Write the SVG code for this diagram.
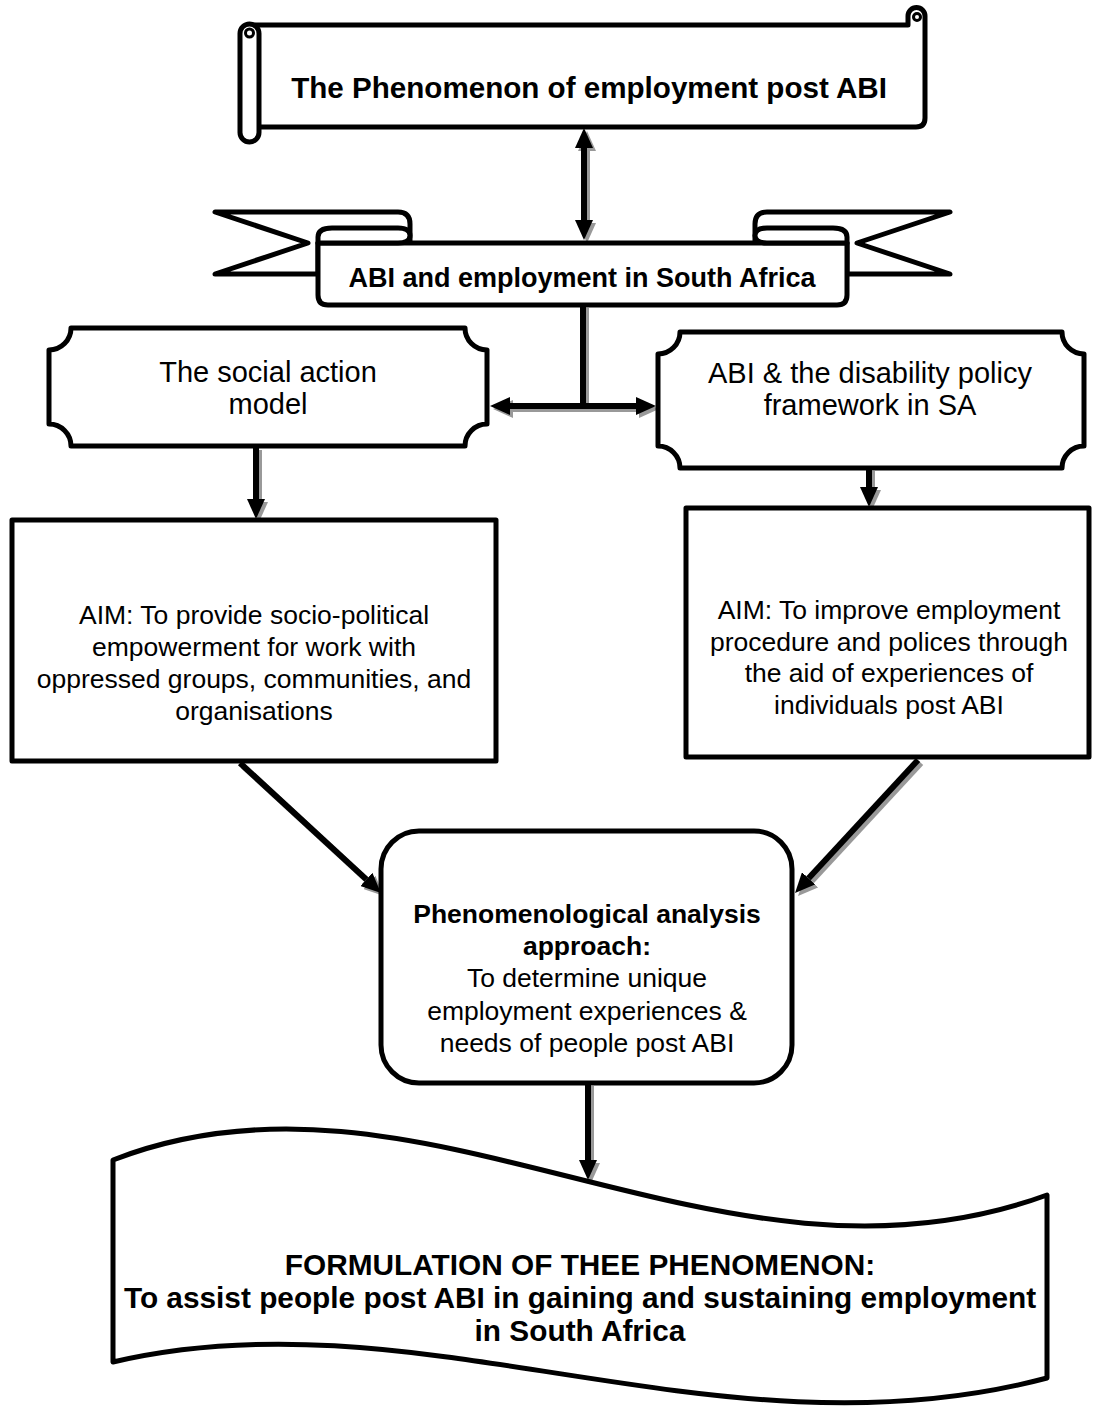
<svg xmlns="http://www.w3.org/2000/svg" width="1093" height="1408" viewBox="0 0 1093 1408">
<style>
.o{fill:#fff;stroke:#000;stroke-width:5;stroke-linejoin:round}
.n{fill:none;stroke:#000;stroke-width:5;stroke-linejoin:round;stroke-linecap:round}
.t{font-family:"Liberation Sans",Arial,sans-serif;fill:#000;text-anchor:middle}
.b{font-weight:bold}
.c{fill:none;stroke:#000;stroke-width:6}
.s{fill:none;stroke:#999;stroke-width:6}
</style>
<defs>
<marker id="ah" viewBox="0 0 20 18" refX="0" refY="9" markerWidth="20" markerHeight="18" markerUnits="userSpaceOnUse" orient="auto-start-reverse"><path d="M0,0 L20,9 L0,18 Z" fill="#000"/></marker>
<marker id="ahs" viewBox="0 0 20 18" refX="0" refY="9" markerWidth="20" markerHeight="18" markerUnits="userSpaceOnUse" orient="auto-start-reverse"><path d="M0,0 L20,9 L0,18 Z" fill="#999"/></marker>
</defs>
<rect width="1093" height="1408" fill="#fff"/>

<g id="connectors">
 <g transform="translate(3,3)">
  <line class="s" x1="584" y1="148" x2="584" y2="220" marker-start="url(#ahs)" marker-end="url(#ahs)"/>
  <line class="s" x1="583" y1="305" x2="583" y2="406"/>
  <line class="s" x1="510" y1="406" x2="636" y2="406" marker-start="url(#ahs)" marker-end="url(#ahs)"/>
  <line class="s" x1="256" y1="447" x2="256" y2="499" marker-end="url(#ahs)"/>
  <line class="s" x1="869" y1="468" x2="869" y2="487" marker-end="url(#ahs)"/>
  <line class="s" x1="240" y1="763" x2="366.3" y2="879.4" marker-end="url(#ahs)"/>
  <line class="s" x1="918" y1="760" x2="808.6" y2="878.3" marker-end="url(#ahs)"/>
  <line class="s" x1="588" y1="1083" x2="588" y2="1160" marker-end="url(#ahs)"/>
 </g>
 <line class="c" x1="584" y1="148" x2="584" y2="220" marker-start="url(#ah)" marker-end="url(#ah)"/>
 <line class="c" x1="583" y1="305" x2="583" y2="406"/>
 <line class="c" x1="510" y1="406" x2="636" y2="406" marker-start="url(#ah)" marker-end="url(#ah)"/>
 <line class="c" x1="256" y1="447" x2="256" y2="499" marker-end="url(#ah)"/>
 <line class="c" x1="869" y1="468" x2="869" y2="487" marker-end="url(#ah)"/>
 <line class="c" x1="240" y1="763" x2="366.3" y2="879.4" marker-end="url(#ah)"/>
 <line class="c" x1="918" y1="760" x2="808.6" y2="878.3" marker-end="url(#ah)"/>
 <line class="c" x1="588" y1="1083" x2="588" y2="1160" marker-end="url(#ah)"/>
</g>

<g id="title">
 <path d="M250,25 H924 V127 H250 Z" fill="#fff"/>
 <path class="n" d="M250,25 H908 V16 A8.5,8.5 0 0 1 925,16 V118 Q925,127 916,127 H258"/>
 <circle cx="917" cy="17" r="3.5" fill="none" stroke="#000" stroke-width="3"/>
 <rect class="o" x="240" y="24" width="19" height="118" rx="9.5"/>
 <circle cx="249.5" cy="33" r="4" fill="none" stroke="#000" stroke-width="3"/>
 <text class="t b" x="589" y="98" font-size="29.6">The Phenomenon of employment post ABI</text>
</g>

<g id="ribbon">
 <path class="o" d="M318,274 H215 L308,243 L215,212 H398 Q410,212 410,224 V243 H318 Z"/>
 <path class="o" d="M318,274 H215 L308,243 L215,212 H398 Q410,212 410,224 V243 H318 Z" transform="matrix(-1,0,0,1,1165,0)"/>
 <path class="o" d="M318,243 H847 V295 Q847,305 837,305 H328 Q318,305 318,295 Z"/>
 <path class="o" d="M318,243 V237 Q318,228 332,228 H398 Q410,228 410,235.5 Q410,243 398,243 Z"/>
 <path class="o" d="M318,243 V237 Q318,228 332,228 H398 Q410,228 410,235.5 Q410,243 398,243 Z" transform="matrix(-1,0,0,1,1165,0)"/>
 <text class="t b" x="582" y="287" font-size="27">ABI and employment in South Africa</text>
</g>

<g id="social">
 <path class="o" d="M71,328 H465 A22,22 0 0 0 487,350 V424 A22,22 0 0 0 465,446 H71 A22,22 0 0 0 49,424 V350 A22,22 0 0 0 71,328 Z"/>
 <text class="t" x="268" y="382" font-size="29">The social action</text>
 <text class="t" x="268" y="414" font-size="29">model</text>
</g>

<g id="policy">
 <path class="o" d="M680,332 H1062 A22,22 0 0 0 1084,354 V446 A22,22 0 0 0 1062,468 H680 A22,22 0 0 0 658,446 V354 A22,22 0 0 0 680,332 Z"/>
 <text class="t" x="870" y="383" font-size="29">ABI &amp; the disability policy</text>
 <text class="t" x="870" y="415" font-size="29">framework in SA</text>
</g>

<g id="aim1">
 <rect class="o" x="12" y="520" width="484" height="241" stroke-linejoin="miter"/>
 <text class="t" x="254" y="624" font-size="26.5">AIM: To provide socio-political</text>
 <text class="t" x="254" y="656" font-size="26.5">empowerment for work with</text>
 <text class="t" x="254" y="688" font-size="26.5">oppressed groups, communities, and</text>
 <text class="t" x="254" y="720" font-size="26.5">organisations</text>
</g>

<g id="aim2">
 <rect class="o" x="686" y="508" width="403" height="249" stroke-linejoin="miter"/>
 <text class="t" x="889" y="619" font-size="26.5">AIM: To improve employment</text>
 <text class="t" x="889" y="651" font-size="26.5">procedure and polices through</text>
 <text class="t" x="889" y="682" font-size="26.5">the aid of experiences of</text>
 <text class="t" x="889" y="714" font-size="26.5">individuals post ABI</text>
</g>

<g id="analysis">
 <rect class="o" x="381" y="831" width="411" height="252" rx="38"/>
 <text class="t b" x="587" y="923" font-size="26.5">Phenomenological analysis</text>
 <text class="t b" x="587" y="955" font-size="26.5">approach:</text>
 <text class="t" x="587" y="987" font-size="26.5">To determine unique</text>
 <text class="t" x="587" y="1020" font-size="26.5">employment experiences &amp;</text>
 <text class="t" x="587" y="1052" font-size="26.5">needs of people post ABI</text>
</g>

<g id="formulation">
 <path class="o" d="M113,1160 C420,1040 720,1315 1047,1195 V1378 C720,1465 420,1290 113,1362 Z"/>
 <text class="t b" x="580" y="1275" font-size="29.8">FORMULATION OF THEE PHENOMENON:</text>
 <text class="t b" x="580" y="1308" font-size="29.8">To assist people post ABI in gaining and sustaining employment</text>
 <text class="t b" x="580" y="1341" font-size="29.8">in South Africa</text>
</g>
</svg>
